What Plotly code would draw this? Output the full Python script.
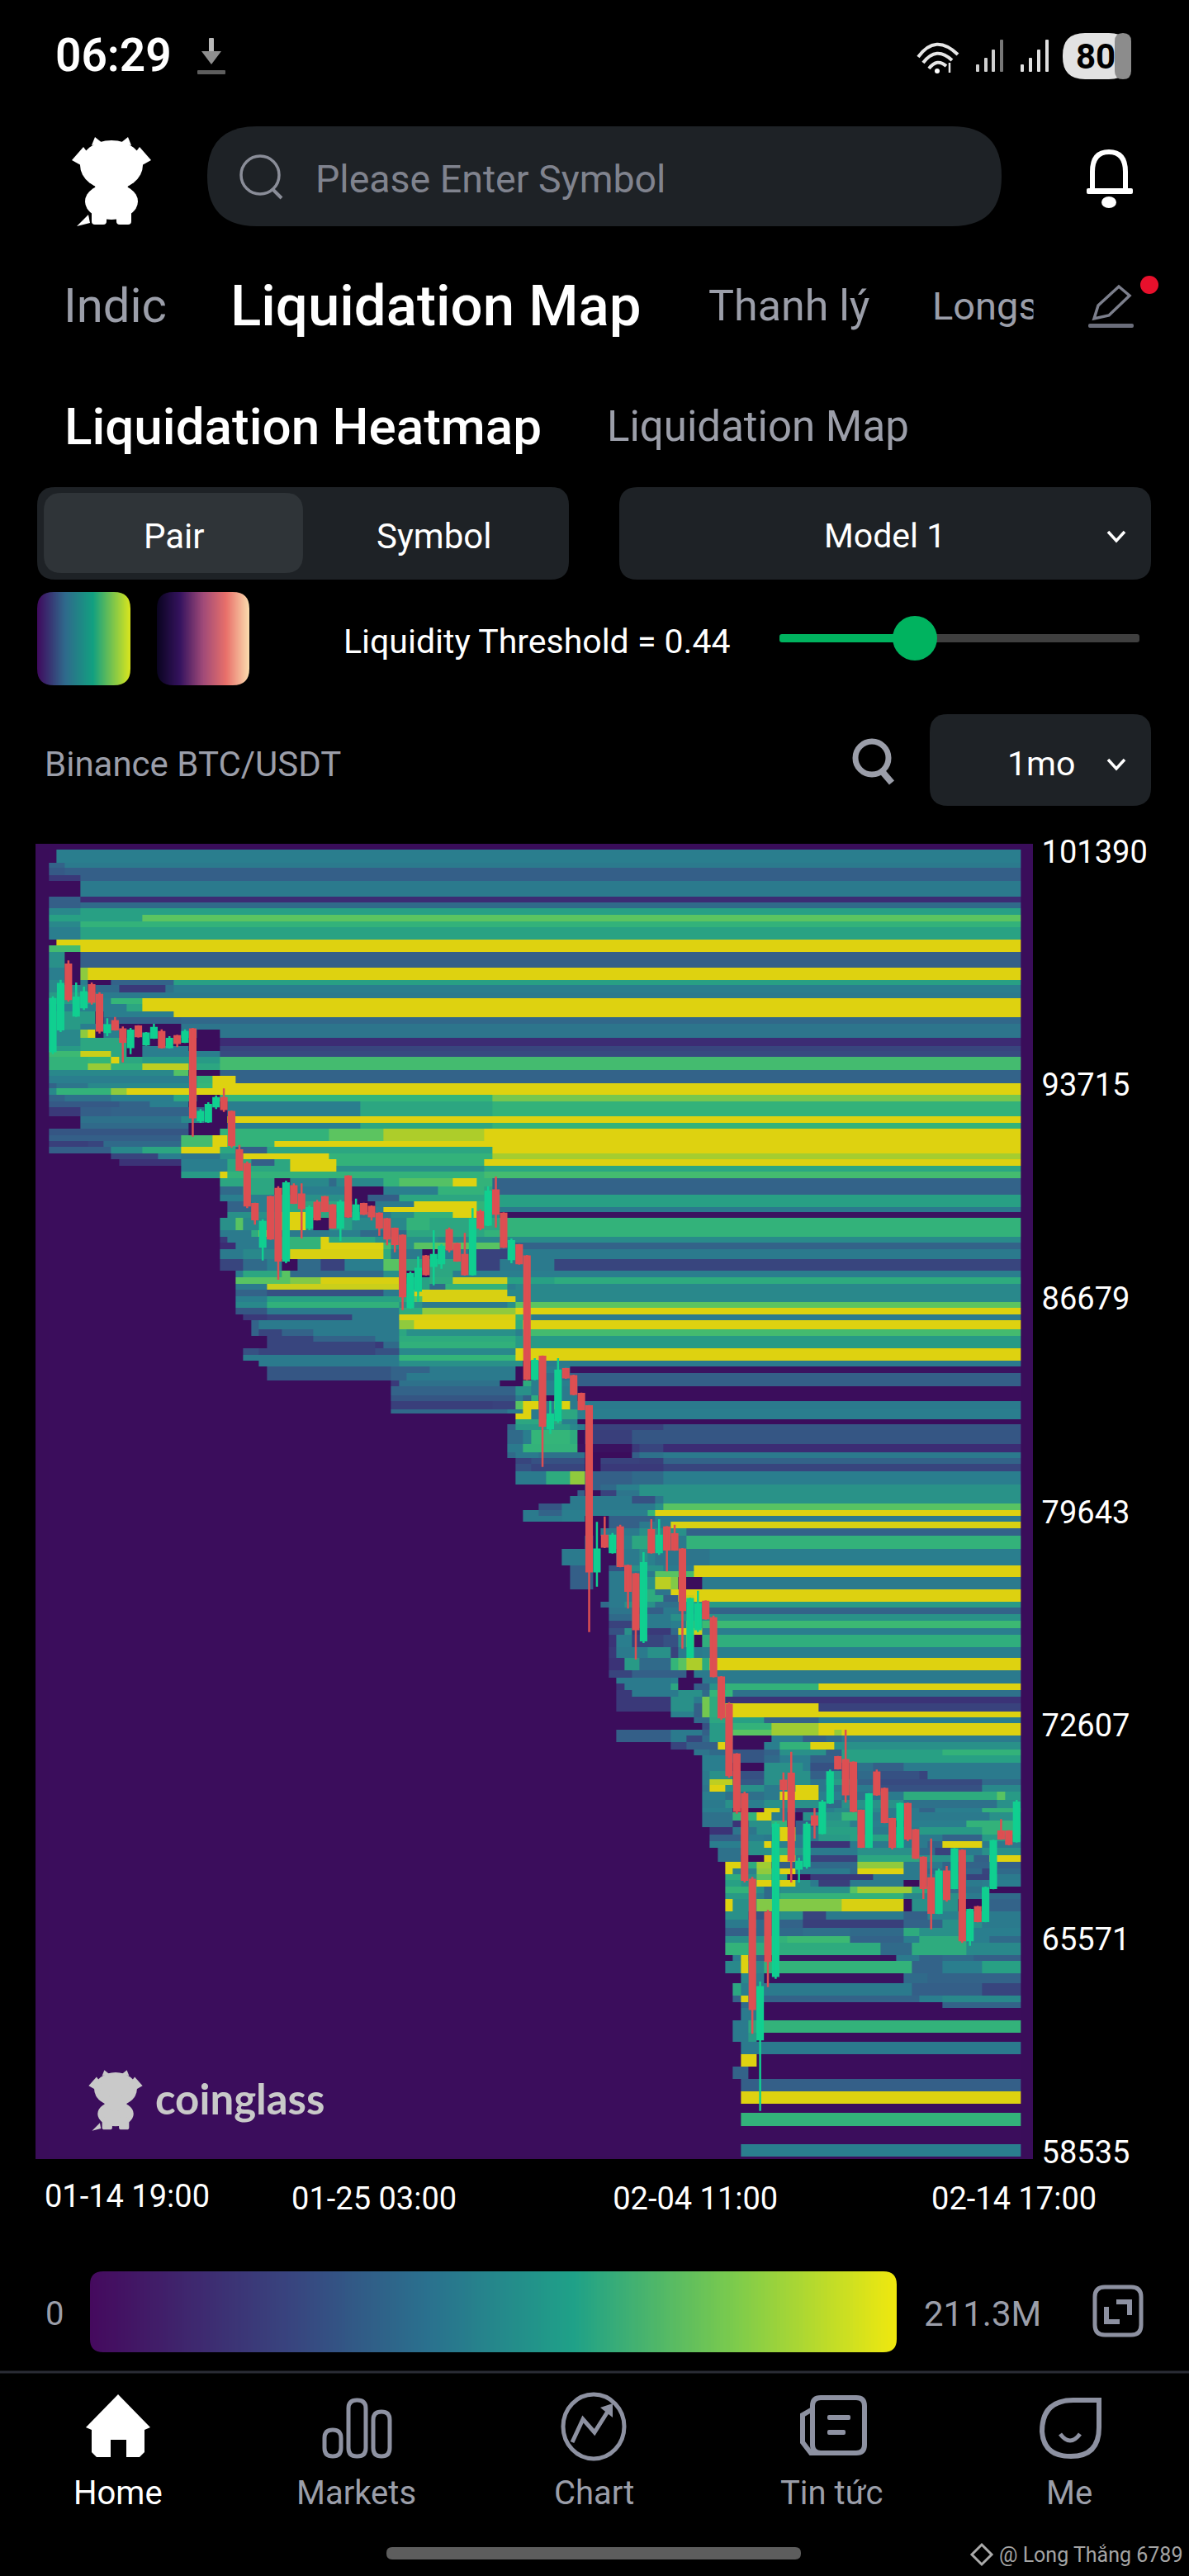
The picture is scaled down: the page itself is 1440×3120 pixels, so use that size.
import pandas as pd
import plotly.graph_objects as go

W = 1440
H = 3120

# candles, one every 6h from 01-14 19:00
candle_open = [94823,95549,97680,96002,96274,97000,96682,95458,95821,95549,94959,95639,95050,95276,95458,94959,95322,95140,95549,92555,92510,93009,93281,
    92828,91558,91104,89789,88383,90016,90288,87930,90379,90106,89018,89834,90016,89744,89018,90696,89290,89789,89698,89472,89290,88973,88746,86388,86932,88066,87748,87839,88927,88474,88111,87476,89517,89109,90243,89472,87975,88429,88066,
    84030,84755,82397,82669,84347,84121,83531,83123,77681,78860,78316,79132,77862,77590,75413,79041,78316,79132,78905,78407,74869,75776,76683,
    76139,74189,73282,71649,70334,67522,62261,66434,64348,70788,71014,67885,67976,69609,69064,70062,71559,71468,71377,69790,68611,71060,70516,69518,68611,70017,69155,68248,67568,66434,67795,67250,68475,65527,66616,66162,67250,69110,69110,68792]
candle_close = [96546,97045,96546,96592,96773,96455,95503,95685,95549,95140,95503,95322,95412,95594,94959,95231,95095,95458,92646,92828,93054,93281,92918,
    91739,90923,89744,89290,89200,88655,87930,90469,89834,89653,89653,89290,89562,89018,89834,89381,89744,89472,89381,89018,88655,88474,86751,87476,87658,87476,88111,88383,88293,87930,87476,89290,89018,90197,89472,88383,88565,87839,84030,
    84619,82488,82851,84302,84075,83531,83032,77681,78407,78497,78860,77862,77046,75776,77953,78316,78860,78407,78407,76411,76774,76593,76139,
    74234,72874,70969,69790,67522,63259,63985,64846,69337,70516,68157,68112,69337,69337,70062,71060,71196,70334,69790,68611,70334,70334,69427,68611,70017,68883,68248,67250,66434,67795,66888,68520,65527,66525,66162,67250,68792,68883,68702,70062]
candle_high = [96637,97181,97816,97090,96954,97090,96773,95911,95957,95639,95594,95685,95458,95730,95549,95322,95367,95549,95594,92918,93145,93372,93599,
    92873,91739,91195,89834,89290,90061,90379,90560,90469,90469,89744,89925,90061,89789,89925,90741,89970,89834,89744,89517,89336,89018,88791,87567,88066,88111,88927,88474,89018,88519,88837,89653,89608,90379,90696,89517,88655,88474,88111,
    84710,84801,83304,84710,84393,84166,83576,83168,79314,79495,78951,79223,77908,77636,78316,79404,79404,79178,79223,78452,76819,77046,76729,
    76230,74234,73373,71695,70425,67613,64166,66524,69427,71060,71740,68248,69427,69881,70153,71150,71604,72466,71423,69835,70380,71150,70561,69563,70062,70062,69200,68293,68883,67885,67976,68566,68520,66570,66661,67296,68838,69518,69155,70153]
candle_low = [94732,95458,96455,95957,96183,96365,95412,95322,95503,94460,94732,95276,95004,95231,94914,94914,94959,95095,92011,92465,92465,92918,92828,
    91648,90877,89653,89109,87930,88610,87295,87839,89789,88655,88927,89245,89517,88973,88565,89336,89245,89426,89245,88746,88429,88202,86297,86342,86569,87431,87113,87658,88202,87884,87431,87431,88927,89063,89018,88338,87839,87794,83984,
    83985,81127,82216,82579,84030,83486,82987,75686,77182,78452,78270,77817,76457,74779,75323,78270,78225,77681,78361,75141,74824,75686,76094,
    74189,72783,70878,69699,67432,62443,59903,63985,64257,69427,67432,67432,67885,68883,69019,70017,71150,70062,69745,68566,68566,70289,69382,68520,68566,68792,68203,66888,65890,66389,66797,67205,65436,65346,66117,66117,67205,68838,68656,68747]

# liquidation bands: top price of each band, the last value closes the last band
band_edges = [101472,101036,100873,100628,100438,99921,99730,99540,99322,99104,98914,98506,98315,98097,97580,97172,97009,96764,96574,96383,
    96138,95948,95730,95540,95268,94996,94832,94642,94424,94206,94016,93771,93608,93390,93172,92982,92683,92465,92275,92057,
    91866,91676,91458,91268,91050,90860,90642,90370,90098,89880,89690,89526,89336,88928,88710,88520,88302,87975,87594,87377,
    87159,86969,86751,86560,86370,86152,85962,85663,85445,85254,85037,84819,84629,84438,84220,83975,83785,83486,83295,83023,
    82887,82697,82533,82343,81880,81608,81418,81227,80982,80547,80357,80166,79921,79704,79513,79323,79105,78860,78425,77880,
    77690,77500,77091,76901,76683,76493,76275,76057,75812,75595,75187,74833,74425,74180,73989,73772,73554,73336,73064,72874,
    72683,72466,72275,72058,71813,71622,71377,71105,70833,70643,70425,70153,69881,69745,69473,69255,69010,68792,68575,68330,
    68112,67894,67704,67513,67296,67078,66888,66479,66207,65935,65663,65445,65037,64846,64439,64112,63704,63486,63296,62888,
    62480,62180,61772,61364,60956,60548,60140,59841,59405,58806,58398]

# for each band: [first candle index, liquidity in millions] runs, left to right
band_runs = [
    [[0,0],[1,89]],
    [[0,63],[2,85]],
    [[0,55],[2,59]],
    [[0,34],[4,59]],
    [[0,0],[4,85]],
    [[0,59],[4,25]],
    [[0,59],[4,70]],
    [[0,95],[4,110]],
    [[0,110],[12,152]],
    [[0,95],[4,127]],
    [[0,89],[4,112]],
    [[0,0],[1,198]],
    [[0,139],[4,198]],
    [[0,100],[2,0],[4,59]],
    [[0,89],[2,0],[4,169],[5,198]],
    [[0,95],[2,0],[4,89],[5,0],[8,63],[16,110]],
    [[0,95],[5,0],[6,70],[9,34],[15,76],[16,89]],
    [[0,106],[6,85]],
    [[0,106],[6,89],[8,131],[12,198]],
    [[0,89],[10,116],[12,198]],
    [[0,106],[6,0],[7,89],[16,198]],
    [[0,106],[6,0],[7,63],[17,68]],
    [[0,106],[4,89],[9,0],[17,80]],
    [[0,95],[4,169],[5,198],[6,0],[7,89],[9,0],[17,85],[19,0],[22,80]],
    [[0,95],[4,116],[10,0],[22,25]],
    [[0,106],[4,116],[10,0],[12,89],[18,0],[22,42]],
    [[0,135],[4,190],[8,116],[10,0],[12,89],[22,46]],
    [[0,127],[5,131],[8,198],[9,116],[12,106],[22,139]],
    [[0,127],[5,173],[8,127],[12,186],[18,116],[22,139]],
    [[0,95],[16,148],[18,0],[22,63]],
    [[0,89],[19,127],[21,198],[24,63]],
    [[0,63],[1,80],[5,95],[19,131],[21,198]],
    [[0,95],[1,127],[8,170],[10,198]],
    [[0,63],[2,76],[8,89],[16,116],[19,0],[22,130],[57,161]],
    [[0,55],[9,63],[13,89],[18,0],[23,89],[40,116],[57,127]],
    [[0,34],[4,59],[8,63],[20,0],[23,89],[40,116],[57,127]],
    [[0,0],[4,76],[17,95],[20,0],[23,198]],
    [[0,0],[4,70],[18,0],[23,89],[40,116],[57,127]],
    [[0,53],[18,0],[22,127],[36,152],[43,180],[56,198]],
    [[0,59],[17,139],[21,198],[23,127],[36,152],[43,180],[56,198]],
    [[0,38],[5,42],[7,70],[17,139],[21,198],[23,127],[29,198]],
    [[0,59],[8,95],[12,116],[17,198],[22,116],[24,59],[28,116],[57,198]],
    [[0,0],[8,42],[14,89],[17,80],[22,100],[25,198],[36,127],[57,177]],
    [[0,0],[9,30],[17,89],[23,116],[26,59],[29,116],[31,198],[37,127],[56,197]],
    [[0,0],[17,89],[23,116],[31,198],[37,100],[56,116]],
    [[0,0],[17,106],[22,198],[23,127],[56,139]],
    [[0,0],[22,116],[29,0],[31,95],[36,70],[37,95],[43,127],[45,148],[52,198],[55,127],[57,63]],
    [[0,0],[22,70],[25,116],[29,0],[31,89],[38,0],[43,89],[50,127],[56,116],[57,63]],
    [[0,0],[22,89],[30,100],[38,0],[41,59],[45,116],[57,110]],
    [[0,0],[23,63],[26,89],[30,116],[39,0],[42,85],[47,198],[55,127],[57,110]],
    [[0,0],[23,63],[26,89],[30,116],[39,0],[42,89],[43,198],[55,127],[57,85]],
    [[0,0],[23,100],[30,198],[33,116],[37,85],[44,100],[47,127],[52,198],[55,100],[58,4]],
    [[0,0],[22,100],[24,150],[25,95],[30,198],[33,100],[34,0],[36,110],[39,95],[46,127],[49,116],[58,127]],
    [[0,0],[22,85],[26,120],[27,198],[28,85],[36,90],[40,70],[46,116],[56,127]],
    [[0,0],[22,34],[23,85],[30,127],[35,198],[36,116],[42,100],[50,95],[58,97]],
    [[0,0],[22,25],[24,85],[30,127],[35,198],[43,139],[44,100],[47,150],[58,63]],
    [[0,0],[22,85],[25,95],[30,140],[31,195],[43,120],[44,85],[48,0],[50,85],[54,40],[59,85]],
    [[0,0],[22,42],[25,70],[28,89],[30,0],[32,70],[35,40],[38,89],[43,150],[45,116],[48,0],[49,116],[53,89],[54,40],[58,85],[65,42]],
    [[0,0],[24,89],[25,116],[30,150],[31,70],[43,100],[46,0],[49,116],[52,89]],
    [[0,0],[24,150],[31,165],[35,195],[45,0],[46,110],[49,120],[52,190],[59,110],[65,120]],
    [[0,0],[24,85],[28,190],[45,90],[47,110],[49,70],[51,127],[59,89],[60,95]],
    [[0,0],[24,63],[28,50],[43,85],[46,95],[47,195],[59,95]],
    [[0,0],[24,89],[28,110],[45,116],[47,150],[48,195],[60,95]],
    [[0,0],[24,95],[28,125],[45,100],[48,85],[59,100],[60,152]],
    [[0,0],[24,53],[28,85],[45,120],[48,170],[60,197]],
    [[0,0],[25,34],[28,40],[39,85],[45,195],[60,127],[62,85]],
    [[0,0],[26,63],[27,85],[45,170],[47,198],[60,120],[61,198]],
    [[0,0],[26,63],[27,42],[30,63],[34,85],[45,116],[46,100],[60,90],[61,139]],
    [[0,0],[28,42],[34,63],[42,85],[45,120],[60,106]],
    [[0,0],[28,42],[42,34],[43,70],[45,125],[60,106]],
    [[0,0],[25,50],[27,42],[42,50],[45,95],[60,198]],
    [[0,0],[25,85],[45,130],[60,198]],
    [[0,0],[27,85],[45,100],[61,0],[62,85]],
    [[0,0],[28,53],[44,63],[49,85],[60,0],[62,89],[67,4]],
    [[0,0],[28,53],[44,63],[46,85],[60,0],[62,76],[67,59]],
    [[0,0],[44,34],[45,76],[58,0],[61,120],[62,89],[67,59]],
    [[0,0],[44,63],[60,100],[62,89],[66,85],[68,0]],
    [[0,0],[44,53],[60,85],[61,60],[62,120],[63,0],[65,85],[68,0]],
    [[0,0],[44,38],[57,40],[60,150],[61,198],[63,85],[65,198],[67,85]],
    [[0,0],[44,70],[59,85],[61,198],[62,85],[66,116],[68,89]],
    [[0,0],[60,198],[62,85],[66,116],[68,89]],
    [[0,0],[60,116],[66,89],[68,0]],
    [[0,0],[59,63],[60,106],[67,95],[68,85],[69,40],[79,53]],
    [[0,0],[59,70],[61,89],[62,130],[67,120],[68,0],[69,38],[75,53]],
    [[0,0],[59,85],[61,127],[68,4],[75,34],[76,42],[79,25]],
    [[0,0],[59,70],[60,85],[63,76],[69,0],[75,59],[76,76],[79,85]],
    [[0,0],[60,42],[62,50],[69,0],[71,40],[76,38],[79,63]],
    [[0,0],[60,50],[62,42],[69,0],[71,34],[79,42]],
    [[0,0],[60,85],[64,120],[67,170],[69,60],[75,70],[79,89]],
    [[0,0],[69,60],[71,70],[73,90],[76,101]],
    [[0,0],[68,60],[69,0],[71,40],[73,80],[76,101]],
    [[0,0],[67,85],[75,50],[78,80],[79,101]],
    [[0,0],[63,53],[66,85],[78,100],[79,150]],
    [[0,0],[61,85],[63,63],[66,89],[77,130],[78,198]],
    [[0,0],[61,85],[66,89],[69,0],[72,60],[78,85]],
    [[0,0],[72,60],[76,85],[80,195]],
    [[0,0],[71,85],[76,100],[82,63]],
    [[0,0],[68,0],[69,85],[70,0],[72,90],[75,116],[78,85],[82,127]],
    [[0,0],[66,85],[70,0],[73,85],[76,100],[77,90],[78,80],[85,89]],
    [[0,0],[67,59],[70,0],[72,50],[74,100],[79,85],[83,197]],
    [[0,0],[67,59],[70,0],[72,85],[78,150],[81,140],[83,197]],
    [[0,0],[67,59],[70,0],[72,85],[75,100],[78,185],[80,165],[81,0],[84,85]],
    [[0,0],[72,85],[76,120],[78,80],[80,197]],
    [[0,0],[72,85],[76,120],[79,60],[81,190],[83,197]],
    [[0,0],[71,70],[72,85],[74,100],[78,75],[81,85],[83,106]],
    [[0,0],[72,80],[75,59],[79,85],[81,80],[84,63]],
    [[0,0],[72,70],[75,85],[80,100],[84,101]],
    [[0,0],[72,40],[75,85],[80,89],[82,190],[83,100],[84,135]],
    [[0,0],[72,50],[74,100],[75,34],[80,70],[81,190],[84,89]],
    [[0,0],[72,30],[73,89],[75,42],[79,50],[81,100],[82,190],[83,0],[84,123]],
    [[0,0],[72,34],[73,85],[77,100],[80,40],[81,85],[84,89]],
    [[0,0],[72,30],[74,106],[76,70],[80,130],[81,150],[82,180],[84,120],[85,198]],
    [[0,0],[72,42],[75,60],[82,0],[83,85]],
    [[0,0],[73,85],[80,89],[81,0],[84,85]],
    [[0,0],[73,30],[74,85],[80,116],[81,0],[83,60],[85,100],[87,127],[99,198]],
    [[0,0],[73,34],[75,85],[81,100],[84,70],[85,130],[88,76]],
    [[0,0],[73,34],[80,100],[83,85],[84,160],[85,120],[87,30]],
    [[0,0],[73,34],[80,100],[83,60],[84,160],[85,120],[87,198],[99,40]],
    [[0,0],[80,90],[83,60],[84,160],[85,120],[87,198]],
    [[0,0],[83,70],[85,116],[87,110],[92,63],[99,89]],
    [[0,0],[84,50],[85,106],[88,127],[93,175],[99,197]],
    [[0,0],[73,59],[80,85],[84,60],[85,106],[88,150],[93,175],[99,198],[101,172],[102,197]],
    [[0,0],[73,59],[80,85],[82,42],[84,70],[85,106],[88,0],[93,89],[97,59],[100,70],[102,85]],
    [[0,0],[80,42],[82,60],[86,198],[87,60],[88,0],[92,89],[94,127],[98,198],[101,100]],
    [[0,0],[83,80],[85,70],[88,53],[92,63],[94,100],[100,59],[102,110],[115,127]],
    [[0,0],[84,89],[87,80],[88,53],[92,70],[94,89],[98,60],[102,110]],
    [[0,0],[84,89],[88,0],[92,100],[97,89],[98,50],[104,76],[106,60],[110,85]],
    [[0,0],[84,85],[85,100],[88,50],[92,100],[98,60],[100,100],[102,50],[104,70],[106,50],[112,42],[113,85]],
    [[0,0],[84,85],[85,186],[88,55],[92,100],[98,80],[100,106],[104,60],[106,45],[120,70]],
    [[0,0],[84,80],[85,198],[87,100],[92,85],[94,100],[96,198],[99,80],[102,95],[104,85],[106,50],[120,95]],
    [[0,0],[84,89],[87,75],[92,85],[94,198],[99,89],[102,76],[107,85],[110,120],[122,150],[123,106]],
    [[0,0],[84,85],[87,100],[88,89],[92,100],[99,70],[102,100],[110,76],[122,100]],
    [[0,0],[84,89],[88,0],[92,198],[94,89],[96,34],[98,30],[100,89],[101,95],[107,85],[112,63],[114,89],[120,127]],
    [[0,0],[84,76],[88,127],[91,198],[93,89],[95,40],[96,0],[97,100],[102,130],[104,85],[121,100]],
    [[0,0],[84,76],[88,30],[90,100],[93,127],[95,0],[96,60],[99,106],[103,89],[108,0],[110,89],[118,127]],
    [[0,0],[85,30],[88,80],[91,100],[94,198],[96,60],[97,85],[99,110],[104,85],[112,106],[120,127]],
    [[0,0],[85,60],[90,89],[92,85],[94,198],[96,85],[99,106],[103,110],[110,85],[115,63],[120,106]],
    [[0,0],[85,89],[90,100],[92,198],[93,90],[96,85],[98,30],[103,85],[113,63],[115,198],[120,85]],
    [[0,0],[86,76],[90,100],[93,127],[96,100],[98,85],[104,100],[112,70],[114,40],[116,85],[120,100]],
    [[0,0],[86,76],[89,0],[92,195],[93,130],[94,198],[96,85],[98,40],[104,116],[112,100],[119,60],[121,198]],
    [[0,0],[87,198],[89,120],[91,175],[93,60],[96,70],[104,170],[110,85],[115,63],[122,59]],
    [[0,0],[87,198],[88,90],[91,170],[93,116],[94,198],[96,85],[103,70],[104,198],[110,85],[113,70],[120,42],[122,70]],
    [[0,0],[87,120],[89,100],[91,150],[93,110],[95,0],[98,34],[106,85],[118,40],[121,85]],
    [[0,0],[87,110],[89,100],[91,198],[93,120],[94,198],[96,100],[98,85],[99,38],[103,85],[110,0],[112,85],[120,89]],
    [[0,0],[87,127],[91,100],[92,70],[94,100],[103,150],[104,175],[111,116],[114,76],[121,0]],
    [[0,0],[87,106],[91,90],[92,70],[94,127],[110,95],[113,100],[118,85],[121,70]],
    [[0,0],[87,198],[88,100],[91,165],[102,195],[110,0],[111,100],[117,0],[120,85],[121,63]],
    [[0,0],[87,100],[90,53],[92,63],[94,100],[97,42],[100,85],[110,60],[113,90],[120,85]],
    [[0,0],[87,85],[91,70],[94,63],[97,38],[110,63],[115,100],[120,85]],
    [[0,0],[87,60],[90,70],[97,75],[103,70],[110,120],[112,100],[118,89]],
    [[0,0],[87,100],[92,127],[95,135],[103,63],[110,89],[112,120],[118,89],[121,70]],
    [[0,0],[87,127],[90,120],[107,70],[111,120],[118,95]],
    [[0,0],[88,89],[89,198],[90,60],[92,4],[109,85],[112,63],[115,70],[119,60]],
    [[0,0],[87,95],[89,198],[90,95],[92,127],[111,63],[115,89],[120,110]],
    [[0,0],[88,0],[89,95],[90,89],[92,4],[110,70],[113,63]],
    [[0,0],[88,116],[89,89],[91,85],[111,59],[120,42]],
    [[0,0],[88,63],[89,198],[90,85],[91,63],[112,89],[115,95]],
    [[0,0],[89,70],[91,0],[115,63]],
    [[0,0],[89,85],[91,0]],
    [[0,0],[88,85],[90,116],[91,127]],
    [[0,0],[88,85],[90,106],[91,0]],
    [[0,0],[89,85]],
    [[0,0],[89,198],[91,0]],
    [[0,0],[88,63],[90,0]],
    [[0,0],[89,59]],
    [[0,0],[89,198]],
    [[0,0]],
    [[0,0],[89,127]],
    [[0,0]],
    [[0,0],[89,89]],
]

price_ticks = [101390, 93715, 86679, 79643, 72607, 65571, 58535]
time_ticks = ["2025-01-25 03:00", "2025-02-04 11:00", "2025-02-14 17:00"]
time_labels = ["01-25 03:00", "02-04 11:00", "02-14 17:00"]
max_liquidity = 211.3

BG = "#3a0d5a"
RED = "#dd4f52"
GREEN = "#10cf90"
PANEL = "#1e2226"
GRAY = "#9b9ea9"
ICON = "#8d91a1"
FONT = "Roboto"

heat_scale = [[0, "#3b0d5c"], [0.12, "#3c2c74"], [0.28, "#345f88"], [0.42, "#2a7e8e"], [0.52, "#28a084"],
              [0.62, "#35b678"], [0.72, "#5cc460"], [0.84, "#a6cd2e"], [0.93, "#dcd010"], [1, "#efe80f"]]
legend_scale = [[0, "#450a5e"], [0.25, "#38457f"], [0.42, "#2a718e"], [0.6, "#1fa188"], [0.8, "#7ccb4c"], [1, "#efe80f"]]
swatch1_scale = [[0, "#3f0a5e"], [0.3, "#2f6a8c"], [0.6, "#12a080"], [1, "#d8e51e"]]
swatch2_scale = [[0, "#0a0420"], [0.25, "#35135f"], [0.5, "#a04a78"], [0.75, "#e8706a"], [1, "#fbdcae"]]

assert len(band_edges) == len(band_runs) + 1, (len(band_edges), len(band_runs))

candle_times = pd.date_range("2025-01-14 19:00", periods=len(candle_open), freq="6h")

# fill the grid from the runs
heat_z = []
for runs in band_runs:
    row = [0] * len(candle_times)
    for k in range(len(runs)):
        start = runs[k][0]
        if k + 1 < len(runs):
            end = runs[k + 1][0]
        else:
            end = len(candle_times)
        for c in range(start, end):
            row[c] = runs[k][1]
    heat_z.append(row)

fig = go.Figure()

# heatmap wants ascending y
fig.add_trace(go.Heatmap(x=candle_times, y=band_edges[::-1], z=heat_z[::-1], zmin=0, zmax=max_liquidity,
                         colorscale=heat_scale, showscale=False, hoverinfo="skip"))
fig.add_trace(go.Candlestick(x=candle_times, open=candle_open, high=candle_high, low=candle_low, close=candle_close,
                             increasing=dict(line=dict(color=GREEN, width=2.5), fillcolor=GREEN),
                             decreasing=dict(line=dict(color=RED, width=2.5), fillcolor=RED),
                             showlegend=False))

# the gradient strips
ramp = [[v / 255 for v in range(256)]]
fig.add_trace(go.Heatmap(z=ramp, colorscale=swatch1_scale, showscale=False, xaxis="x2", yaxis="y2", hoverinfo="skip"))
fig.add_trace(go.Heatmap(z=ramp, colorscale=swatch2_scale, showscale=False, xaxis="x3", yaxis="y3", hoverinfo="skip"))
fig.add_trace(go.Heatmap(z=ramp, colorscale=legend_scale, showscale=False, xaxis="x4", yaxis="y4", hoverinfo="skip"))

shapes = []
texts = []


def px(x):
    return x / W


def py(y):
    return 1 - y / H


def xy(x, y):
    return "%.5f,%.5f" % (px(x), py(y))


def add_path(d, fill=None, line=None, lw=0):
    s = dict(type="path", path=d, xref="paper", yref="paper", layer="above", line=dict(width=lw, color=line or "rgba(0,0,0,0)"))
    if fill:
        s["fillcolor"] = fill
    shapes.append(s)


def rrect(x0, y0, x1, y1, r, fill=None, line=None, lw=0):
    d = "M" + xy(x0 + r, y0) + " L" + xy(x1 - r, y0) + " Q" + xy(x1, y0) + " " + xy(x1, y0 + r)
    d += " L" + xy(x1, y1 - r) + " Q" + xy(x1, y1) + " " + xy(x1 - r, y1)
    d += " L" + xy(x0 + r, y1) + " Q" + xy(x0, y1) + " " + xy(x0, y1 - r)
    d += " L" + xy(x0, y0 + r) + " Q" + xy(x0, y0) + " " + xy(x0 + r, y0) + " Z"
    add_path(d, fill, line, lw)


def poly(points, fill=None, line=None, lw=0, close=True):
    d = "M" + " L".join(xy(p[0], p[1]) for p in points)
    if close:
        d += " Z"
    add_path(d, fill, line, lw)


def curve(x0, y0, cx, cy, x1, y1, line, lw):
    add_path("M" + xy(x0, y0) + " Q" + xy(cx, cy) + " " + xy(x1, y1), None, line, lw)


def ellipse(cx, cy, rx, ry, fill=None, line=None, lw=0):
    s = dict(type="circle", xref="paper", yref="paper", layer="above", x0=px(cx - rx), x1=px(cx + rx), y0=py(cy + ry), y1=py(cy - ry),
             line=dict(width=lw, color=line or "rgba(0,0,0,0)"))
    if fill:
        s["fillcolor"] = fill
    shapes.append(s)


def round_corners(x0, y0, x1, y1, r):
    for cx, cy, sx, sy in [(x0, y0, 1, 1), (x1, y0, -1, 1), (x1, y1, -1, -1), (x0, y1, 1, -1)]:
        add_path("M" + xy(cx - sx, cy - sy) + " L" + xy(cx + r * sx, cy - sy) + " L" + xy(cx + r * sx, cy) + " Q" + xy(cx, cy) + " " + xy(cx, cy + r * sy)
                 + " L" + xy(cx - sx, cy + r * sy) + " Z", "black")


def label(x, y, s, size, color="white", anchor="left", weight=400, family=FONT):
    texts.append(dict(x=px(x), y=py(y), xref="paper", yref="paper", text=s, showarrow=False, xanchor=anchor, yanchor="middle",
                      font=dict(size=size, color=color, family=family, weight=weight)))


def bull(x, y, s, color):
    # small coinglass mascot, x,y is the top of the head
    ellipse(x, y + 30 * s, 38 * s, 30 * s, color)
    poly([(x - 48 * s, y + 24 * s), (x - 34 * s, y + 8 * s), (x - 22 * s, y + 24 * s), (x - 30 * s, y + 34 * s)], color)
    poly([(x + 48 * s, y + 24 * s), (x + 34 * s, y + 8 * s), (x + 22 * s, y + 24 * s), (x + 30 * s, y + 34 * s)], color)
    poly([(x - 24 * s, y + 6 * s), (x - 20 * s, y - 4 * s), (x - 10 * s, y + 4 * s)], color)
    poly([(x + 24 * s, y + 6 * s), (x + 20 * s, y - 4 * s), (x + 10 * s, y + 4 * s)], color)
    ellipse(x, y + 74 * s, 32 * s, 22 * s, color)
    ellipse(x, y + 54 * s, 20 * s, 14 * s, color)
    rrect(x - 24 * s, y + 80 * s, x - 6 * s, y + 102 * s, 4 * s, color)
    rrect(x + 6 * s, y + 80 * s, x + 24 * s, y + 102 * s, 4 * s, color)
    poly([(x - 28 * s, y + 90 * s), (x - 42 * s, y + 104 * s), (x - 26 * s, y + 100 * s)], color)


def chevron(x, y):
    poly([(x - 10, y - 5), (x, y + 6), (x + 10, y - 5)], None, "white", 3.5, close=False)


# status bar
label(65, 67, "06:29", 55, weight=600, family="Roboto")
rrect(253, 46, 259, 66, 1, "#b9b9b9")
poly([(244, 62), (268, 62), (256, 78)], "#8f8f8f")
rrect(239, 85, 273, 90, 1, "#5e5e5e")
curve(1112, 69, 1133, 40, 1160, 66, "#e6e6e6", 4)
curve(1118, 76, 1134, 55, 1153, 73, "#e6e6e6", 4)
curve(1125, 83, 1135, 70, 1146, 80, "#e6e6e6", 4)
ellipse(1135, 86, 3, 3, "white")
poly([(1150, 88), (1150, 76)], None, "#e6e6e6", 2.5, close=False)
for x, top in [(1182, 78), (1192, 70), (1201, 60), (1211, 48)]:
    rrect(x, top, x + 4, 87, 1, "#cfcfcf" if x < 1205 else "#777777")
for x, top in [(1236, 78), (1246, 70), (1256, 60), (1266, 48)]:
    rrect(x, top, x + 4, 87, 1, "#e0e0e0")
rrect(1287, 40, 1370, 96, 27, "#e2e2e2")
rrect(1350, 40, 1370, 96, 10, "#8c8c8c")
label(1327, 68, "80", 42, "black", "center", 700)

# search row
bull(135, 170, 1.0, "white")
rrect(251, 153, 1213, 274, 60, PANEL)
ellipse(315, 212, 23, 23, None, "#8a8d98", 3.5)
poly([(331, 230), (341, 240)], None, "#8a8d98", 4, close=False)
label(380, 217, "Please Enter Symbol", 46.5, "#80838e")
add_path("M" + xy(1323, 230) + " L" + xy(1323, 208) + " Q" + xy(1323, 184) + " " + xy(1343, 184) + " Q" + xy(1363, 184) + " " + xy(1363, 208)
         + " L" + xy(1363, 230), None, "white", 6)
rrect(1316, 228, 1372, 235, 2, "white")
ellipse(1343, 245, 9, 7, "white")

# tabs
label(75, 370, "Indic", 58, GRAY)
label(277, 370, "Liquidation Map", 69, "white", weight=500)
label(856, 370, "Thanh lý", 52, GRAY)
label(1127, 370, "Longs", 47, GRAY)
texts.append(dict(x=px(1251), y=py(370), xref="paper", yref="paper", text=" ", showarrow=False, xanchor="left", yanchor="middle",
                  width=30, height=80, bgcolor="black"))
poly([(1325, 386), (1330, 370), (1355, 347), (1368, 358), (1343, 382)], None, "#7c7f8c", 3.5)
rrect(1318, 392, 1373, 397, 2, "#6a6d7a")
ellipse(1392, 345, 11, 11, "#e8102c")

label(76, 517, "Liquidation Heatmap", 62, "white", weight=500)
label(733, 517, "Liquidation Map", 51, GRAY)

# Pair / Symbol / model
rrect(45, 590, 689, 702, 22, PANEL)
rrect(53, 597, 367, 694, 22, "#2f3438")
label(211, 649, "Pair", 42, "white", "center")
label(525, 649, "Symbol", 42, "white", "center")
rrect(750, 590, 1394, 702, 22, PANEL)
label(1071, 649, "Model 1", 41, "white", "center")
chevron(1352, 649)

# swatches and slider
round_corners(45, 717, 158, 830, 20)
round_corners(190, 717, 302, 830, 20)
label(414, 777, "Liquidity Threshold = 0.44", 41)
rrect(1108, 768, 1380, 778, 3, "#3f3f3f")
rrect(944, 768, 1108, 778, 3, "#00b35f")
ellipse(1108, 773, 27, 27, "#00b35f")

# pair line
label(52, 925, "Binance BTC/USDT", 42, GRAY)
ellipse(1056, 918, 20, 20, None, GRAY, 7)
poly([(1068, 934), (1080, 948)], None, GRAY, 8, close=False)
rrect(1126, 865, 1394, 976, 22, PANEL)
label(1261, 925, "1mo", 41, "white", "center")
chevron(1352, 925)

# watermark inside the chart
bull(140, 2510, 0.68, "#c9c9c9")
label(186, 2541, "coinglass", 51, "#c9c9c9", weight=700, family="Lato")

# first time label sits inside the frame, not on its tick
label(52, 2660, "01-14 19:00", 38)

# legend
round_corners(109, 2751, 1086, 2849, 16)
label(66, 2802, "0", 40, GRAY, "center")
label(1117, 2802, "211.3M", 42, GRAY)
rrect(1326, 2770, 1382, 2828, 12, None, ICON, 5)
poly([(1352, 2788), (1368, 2788), (1368, 2804)], None, ICON, 6, close=False)
poly([(1340, 2794), (1340, 2812), (1356, 2812)], None, ICON, 6, close=False)
shapes.append(dict(type="line", xref="paper", yref="paper", x0=0, x1=1, y0=py(2873), y1=py(2873), line=dict(color="#2a2c35", width=3)))

# bottom nav
poly([(143, 2900), (182, 2940), (175, 2943), (175, 2970), (169, 2976), (153, 2976), (153, 2955), (134, 2955), (134, 2976), (117, 2976), (111, 2970), (111, 2943), (104, 2940)], "white")
rrect(393, 2943, 413, 2975, 10, None, ICON, 5)
rrect(422, 2907, 443, 2975, 10, None, ICON, 5)
rrect(452, 2921, 472, 2975, 10, None, ICON, 5)
ellipse(719, 2939, 37, 39, None, ICON, 5)
poly([(693, 2958), (706, 2930), (720, 2946), (739, 2916)], None, ICON, 5, close=False)
poly([(727, 2916), (742, 2911), (742, 2928)], ICON)
rrect(984, 2904, 1047, 2971, 10, None, ICON, 6)
poly([(984, 2918), (972, 2925), (972, 2958), (982, 2971), (996, 2971)], None, ICON, 6, close=False)
rrect(1002, 2925, 1030, 2931, 2, ICON)
rrect(1002, 2943, 1024, 2949, 2, ICON)
add_path("M" + xy(1331, 2907) + " L" + xy(1300, 2907) + " Q" + xy(1262, 2907) + " " + xy(1262, 2945) + " Q" + xy(1264, 2975) + " " + xy(1297, 2975)
         + " Q" + xy(1331, 2975) + " " + xy(1331, 2940) + " Z", None, ICON, 6)
curve(1284, 2948, 1296, 2964, 1308, 2948, ICON, 5)
label(143, 3019, "Home", 40, "white", "center")
label(431, 3019, "Markets", 40, GRAY, "center")
label(719, 3019, "Chart", 40, GRAY, "center")
label(1007, 3019, "Tin tức", 40, GRAY, "center")
label(1295, 3019, "Me", 40, GRAY, "center")
rrect(468, 3085, 970, 3100, 7, "#5d5d5d")
poly([(1189, 3082), (1201, 3094), (1189, 3106), (1177, 3094)], None, "#aaaaaa", 3)
label(1208, 3094, "@ Long Thắng 6789", 25, "#a5a5a5")

frame_left = candle_times[0] - pd.Timedelta(hours=13.4)
frame_right = candle_times[0] + pd.Timedelta(hours=756.6)

strip = dict(showticklabels=False, ticks="", showgrid=False, zeroline=False, visible=False, automargin=False)
fig.update_layout(
    width=W, height=H, margin=dict(l=0, r=0, t=0, b=0, autoexpand=False),
    paper_bgcolor="black", plot_bgcolor=BG, showlegend=False, boxgap=0,
    font=dict(family=FONT, color="white"),
    xaxis=dict(domain=[43 / W, 1251 / W], type="date", range=[frame_left, frame_right], rangeslider=dict(visible=False), automargin=False,
               tickmode="array", tickvals=time_ticks, ticktext=time_labels, showgrid=False, zeroline=False,
               ticks="outside", ticklen=14, tickcolor="rgba(0,0,0,0)", tickfont=dict(size=38, color="white", family=FONT)),
    yaxis=dict(domain=[1 - 2615 / H, 1 - 1022 / H], side="right", range=[58316, 101662], tickmode="array", tickvals=price_ticks, automargin=False,
               tickformat="d", showgrid=False, zeroline=False, ticks="outside", ticklen=2, tickcolor="rgba(0,0,0,0)",
               tickfont=dict(size=38, color="white", family=FONT)),
    xaxis2=dict(domain=[45 / W, 158 / W], anchor="y2", **strip),
    yaxis2=dict(domain=[1 - 830 / H, 1 - 717 / H], anchor="x2", **strip),
    xaxis3=dict(domain=[190 / W, 302 / W], anchor="y3", **strip),
    yaxis3=dict(domain=[1 - 830 / H, 1 - 717 / H], anchor="x3", **strip),
    xaxis4=dict(domain=[109 / W, 1086 / W], anchor="y4", **strip),
    yaxis4=dict(domain=[1 - 2849 / H, 1 - 2751 / H], anchor="x4", **strip),
    shapes=shapes, annotations=texts,
)

fig.write_html("out.html", config=dict(displayModeBar=False),
               post_script="document.body.style.margin='0';document.body.style.background='black';")
